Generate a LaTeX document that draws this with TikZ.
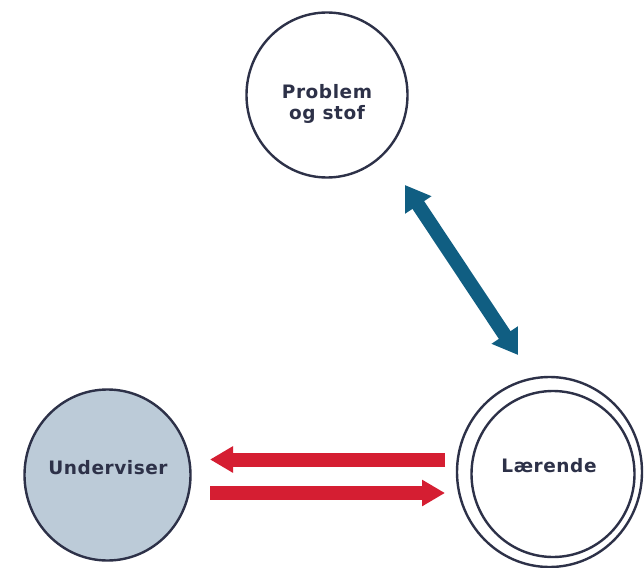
\documentclass[tikz,border=0pt]{standalone}
\usepackage{fontspec}
\newfontfamily\labfont{DejaVu Sans}[LetterSpace=3]
\usetikzlibrary{arrows.meta,shapes.geometric}
\definecolor{inkc}{RGB}{45,49,72}
\definecolor{fillc}{RGB}{188,203,216}
\definecolor{bluec}{RGB}{16,94,130}
\definecolor{redc}{RGB}{213,30,50}
\tikzset{
  ring/.style={ellipse, draw=inkc, line width=2.4bp, inner sep=0pt},
  labtext/.style={text=inkc, font=\labfont\bfseries\fontsize{18.5bp}{21.5bp}\selectfont, align=center, inner sep=0pt},
  bluearrow/.style={draw=bluec, line width=14bp, {Triangle[length=24bp,width=30bp]}-{Triangle[length=24bp,width=30bp]}},
  redarrow/.style={draw=redc, line width=14bp, -{Triangle[length=23bp,width=25bp]}}
}
\begin{document}
\begin{tikzpicture}[x=1bp,y=-1bp]
\useasboundingbox[fill=white] (0,0) rectangle (644,568);
% nodes
\node[ring, minimum width=161bp, minimum height=165bp] (prob) at (327,95) {};
\node[labtext] (probt) at (327,104) {Problem\\og stof};
\node[ring, fill=fillc, minimum width=166bp, minimum height=171bp] (und) at (107.5,475) {};
\node[labtext] (undt) at (108,467.5) {Underviser};
\node[ring, minimum width=185bp, minimum height=190bp] (larout) at (549.5,472) {};
\node[ring, minimum width=163bp, minimum height=166bp] (larin) at (553,474) {};
\node[labtext] (lart) at (549,466) {Lærende};
% connector ends
\coordinate (b1) at (405,185);
\coordinate (b2) at (518,355);
\coordinate (r1a) at (445,459.5);
\coordinate (r1b) at (210,459.5);
\coordinate (r2a) at (210,493);
\coordinate (r2b) at (445,493);
% connectors
\draw[bluearrow] (b1) -- (b2);
\draw[redarrow] (r1a) -- (r1b);
\draw[redarrow] (r2a) -- (r2b);
\end{tikzpicture}
\end{document}
